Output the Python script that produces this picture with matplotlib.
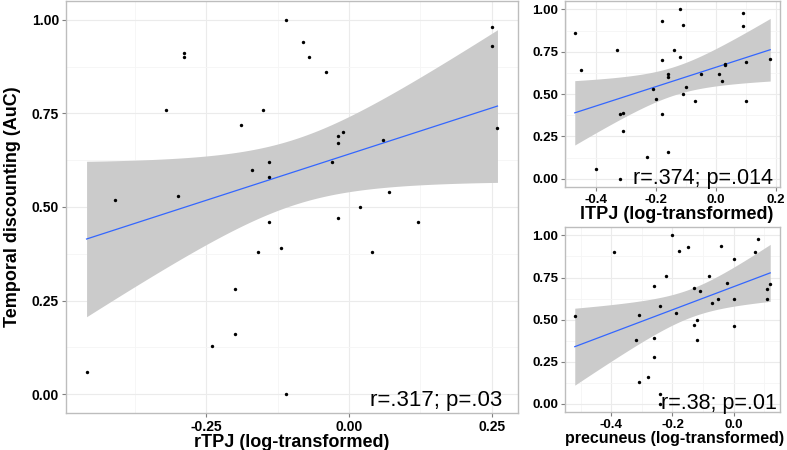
import numpy as np
import matplotlib
matplotlib.use('Agg')
import matplotlib.pyplot as plt
from matplotlib.ticker import FixedLocator

plt.rcParams['font.family'] = ['Liberation Sans', 'DejaVu Sans']

# values
rtpj = [-0.46, -0.41, -0.32, -0.30, -0.29, -0.29, -0.24, -0.20, -0.20, -0.19,
        -0.17, -0.16, -0.15, -0.14, -0.14, -0.14, -0.12, -0.11, -0.11, -0.08,
        -0.07, -0.04, -0.03, -0.02, -0.01, -0.02, -0.02, 0.02, 0.04, 0.06,
        0.07, 0.12, 0.25, 0.25, 0.26]
auc_r = [0.06, 0.52, 0.76, 0.53, 0.91, 0.90, 0.13, 0.28, 0.16, 0.72,
         0.60, 0.38, 0.76, 0.62, 0.58, 0.46, 0.39, 0.00, 1.00, 0.94,
         0.90, 0.86, 0.62, 0.69, 0.70, 0.67, 0.47, 0.50, 0.38, 0.68,
         0.54, 0.46, 0.98, 0.93, 0.71]

ltpj = [-0.47, -0.45, -0.33, -0.32, -0.31, -0.21, -0.20, -0.18, -0.18, -0.18,
        -0.16, -0.16, -0.14, -0.12, -0.12, -0.11, -0.11, -0.10, -0.07, -0.05,
        0.01, 0.02, 0.03, 0.03, 0.09, 0.09, 0.10, 0.10, 0.18, -0.31,
        -0.23, -0.16, -0.40, -0.32]
auc_l = [0.86, 0.64, 0.76, 0.38, 0.39, 0.53, 0.47, 0.93, 0.70, 0.38,
         0.62, 0.60, 0.76, 1.00, 0.72, 0.91, 0.50, 0.54, 0.46, 0.62,
         0.62, 0.58, 0.68, 0.67, 0.98, 0.90, 0.69, 0.46, 0.71, 0.28,
         0.13, 0.16, 0.06, 0.00]

prec = [-0.52, -0.39, -0.31, -0.32, -0.26, -0.26, -0.24, -0.22, -0.20, -0.19,
        -0.18, -0.15, -0.13, -0.13, -0.12, -0.12, -0.11, -0.08, -0.07, -0.05,
        -0.04, -0.02, 0.00, 0.00, 0.00, 0.07, 0.08, 0.11, 0.11, 0.12,
        -0.26, -0.28, -0.31, -0.24, -0.24]
auc_p = [0.52, 0.90, 0.53, 0.38, 0.70, 0.39, 0.58, 0.76, 1.00, 0.54,
         0.91, 0.93, 0.69, 0.47, 0.50, 0.38, 0.67, 0.76, 0.60, 0.62,
         0.94, 0.72, 0.86, 0.62, 0.46, 0.90, 0.98, 0.68, 0.62, 0.71,
         0.28, 0.16, 0.13, 0.06, 0.00]

y_ticks = [0.00, 0.25, 0.50, 0.75, 1.00]
y_ticklabels = ['0.00', '0.25', '0.50', '0.75', '1.00']


def smooth_panel(ax, x, y, xticks, xticklabels, xminor, xlabel, note,
                 tick_size, label_size, note_size, note_x):
    x = np.asarray(x)
    y = np.asarray(y)
    n = len(x)
    # linear fit with 95% confidence band (like geom_smooth(method='lm'))
    b, a = np.polyfit(x, y, 1)
    xs = np.linspace(x.min(), x.max(), 100)
    fit = a + b * xs
    resid = y - (a + b * x)
    s = np.sqrt(np.sum(resid ** 2) / (n - 2))
    sxx = np.sum((x - x.mean()) ** 2)
    se = s * np.sqrt(1.0 / n + (xs - x.mean()) ** 2 / sxx)
    t = 2.035
    ax.fill_between(xs, fit - t * se, fit + t * se, color='#CBCBCB', lw=0, zorder=2)
    ax.plot(xs, fit, color='#3366FF', lw=0.9, zorder=3)
    ax.scatter(x, y, s=6, color='black', zorder=4, linewidths=0)

    rng = x.max() - x.min()
    ax.set_xlim(x.min() - 0.05 * rng, x.max() + 0.05 * rng)
    ax.set_ylim(-0.05, 1.05)
    ax.set_xticks(xticks)
    ax.set_xticklabels(xticklabels)
    ax.set_yticks(y_ticks)
    ax.set_yticklabels(y_ticklabels)
    ax.xaxis.set_minor_locator(FixedLocator(xminor))
    ax.yaxis.set_minor_locator(FixedLocator([0.125, 0.375, 0.625, 0.875]))
    ax.grid(which='major', color='#EBEBEB', lw=0.8, zorder=0)
    ax.grid(which='minor', color='#F5F5F5', lw=0.6, zorder=0)
    ax.set_axisbelow(True)
    for sp in ax.spines.values():
        sp.set_color('#BDBDBD')
        sp.set_linewidth(1.0)
    ax.tick_params(which='major', length=3, width=0.8, color='#7F7F7F', pad=2,
                   labelsize=tick_size)
    ax.tick_params(which='minor', length=0)
    for lab in ax.get_xticklabels() + ax.get_yticklabels():
        lab.set_fontweight('bold')
    ax.set_xlabel(xlabel, fontsize=label_size, fontweight='bold', labelpad=0)
    ax.text(note_x, 0.018, note, transform=ax.transAxes, ha='right',
            va='baseline', fontsize=note_size, zorder=5)


fig = plt.figure(figsize=(7.87, 4.5), dpi=100)

ax_main = fig.add_axes([0.0839, 0.0822, 0.5743, 0.9156])
smooth_panel(ax_main, rtpj, auc_r, [-0.25, 0.0, 0.25], ['-0.25', '0.00', '0.25'],
             [-0.375, -0.125, 0.125], 'rTPJ (log-transformed)', 'r=.317; p=.03',
             10, 13, 16, 0.965)
ax_main.set_ylabel('Temporal discounting (AuC)', fontsize=13, fontweight='bold',
                   labelpad=8)

ax_l = fig.add_axes([0.7179, 0.5838, 0.2732, 0.414])
smooth_panel(ax_l, ltpj, auc_l, [-0.4, -0.2, 0.0, 0.2], ['-0.4', '-0.2', '0.0', '0.2'],
             [-0.5, -0.3, -0.1, 0.1], 'lTPJ (log-transformed)', 'r=.374; p=.014',
             9.5, 13, 15.5, 0.967)
ax_l.xaxis.set_label_coords(0.52, -0.1)

ax_p = fig.add_axes([0.7179, 0.0838, 0.2732, 0.4118])
smooth_panel(ax_p, prec, auc_p, [-0.4, -0.2, 0.0], ['-0.4', '-0.2', '0.0'],
             [-0.5, -0.3, -0.1, 0.1], 'precuneus (log-transformed)', 'r=.38; p=.01',
             9.5, 11.5, 15.5, 0.985)
ax_p.xaxis.set_label_coords(0.51, -0.1)

fig.savefig('out.png', dpi=100)
